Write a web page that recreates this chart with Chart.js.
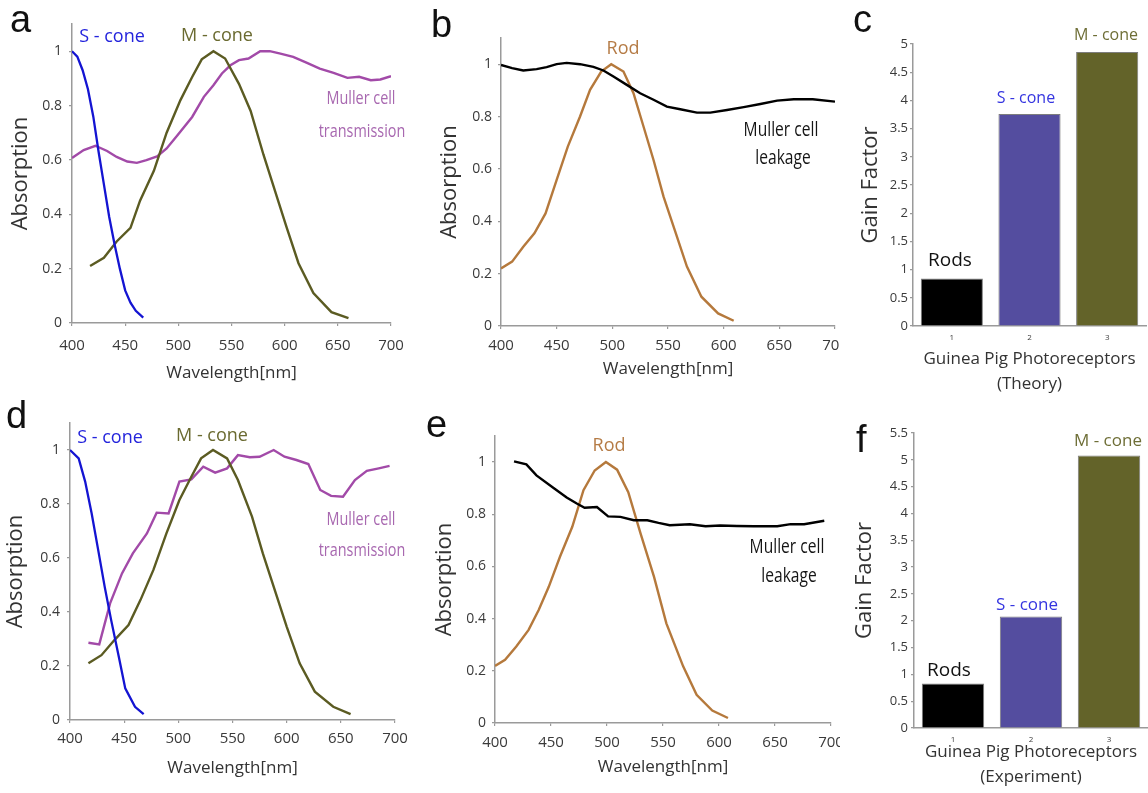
<!DOCTYPE html>
<html><head><meta charset="utf-8">
<script src="https://cdn.jsdelivr.net/npm/chart.js@4.4.0/dist/chart.umd.min.js"></script>
<style>
html,body{margin:0;padding:0;background:#fff;}
#wrap{position:relative;width:1148px;height:793px;overflow:hidden;background:#fff;}
canvas{position:absolute;}
.t{position:absolute;white-space:nowrap;line-height:1;transform:translate(-50%,-50%);font-family:'Open Sans',sans-serif;}
.n{transform:translate(-50%,-50%) scaleX(0.8);}
.L{position:absolute;line-height:1;font-family:'Liberation Sans',Arial,sans-serif;font-size:38px;color:#111;}
</style></head><body><div id="wrap">
<canvas id="ca"></canvas><canvas id="cb"></canvas><canvas id="cc"></canvas>
<canvas id="cd"></canvas><canvas id="ce"></canvas><canvas id="cf"></canvas>
</div>
<script>
// ---------- data ----------
const wavelengthTicks = [400,450,500,550,600,650,700];
const absorptionTicks = [0,0.2,0.4,0.6,0.8,1];
const absorptionTickLabels = ['0','0.2','0.4','0.6','0.8','1'];
const gainTicksTheory = [0,0.5,1,1.5,2,2.5,3,3.5,4,4.5,5];
const gainTickLabelsTheory = ['0','0.5','1','1.5','2','2.5','3','3.5','4','4.5','5'];
const gainTicksExperiment = [0,0.5,1,1.5,2,2.5,3,3.5,4,4.5,5,5.5];
const gainTickLabelsExperiment = ['0','0.5','1','1.5','2','2.5','3','3.5','4','4.5','5','5.5'];
const receptorCategories = ['1','2','3'];
const receptorNames = ['Rods','S - cone','M - cone'];

// panel a
const aSconeX = [400,405,410,415,420,425,430,435,440,445,450,455,460,467];
const aSconeY = [1.0,0.98,0.93,0.86,0.76,0.63,0.51,0.39,0.29,0.2,0.12,0.075,0.045,0.02];
const aMconeX = [417,430,442,455,464,477,489,502,513,522,533,544,557,568,580,593,602,613,627,644,660];
const aMconeY = [0.21,0.24,0.3,0.35,0.45,0.56,0.7,0.82,0.905,0.97,1.0,0.973,0.88,0.78,0.62,0.46,0.35,0.22,0.11,0.04,0.018];
const aMullerX = [400,411,422,433,442,452,461,470,480,489,499,513,524,533,541,549,557,566,577,586,596,608,621,633,646,659,670,681,690,700];
const aMullerY = [0.607,0.636,0.652,0.633,0.611,0.594,0.589,0.599,0.613,0.642,0.69,0.758,0.832,0.875,0.918,0.948,0.967,0.973,1.0,1.0,0.991,0.979,0.957,0.936,0.92,0.902,0.906,0.893,0.896,0.908];

// panel b
const bMullerX = [400,410,420,432,441,450,459,471,483,492,501,513,525,537,549,561,576,588,603,618,633,648,663,680,700];
const bMullerY = [0.997,0.985,0.976,0.981,0.989,1.0,1.005,1.0,0.99,0.976,0.953,0.921,0.889,0.864,0.838,0.828,0.815,0.815,0.825,0.836,0.848,0.861,0.866,0.866,0.857];
const bRodX = [400,410,420,430,440,450,460,471,480,490,499,510,519,528,537,546,556,567,580,595,609];
const bRodY = [0.22,0.246,0.303,0.354,0.43,0.558,0.685,0.8,0.902,0.972,1.0,0.972,0.889,0.762,0.634,0.494,0.367,0.227,0.112,0.048,0.02];

// panel c
const gainTheory = [0.84,3.76,4.86];

// panel d
const dSconeX = [400,408,414,420,426,432,438,445,451,460,468];
const dSconeY = [1.0,0.969,0.883,0.765,0.63,0.494,0.37,0.235,0.117,0.049,0.022];
const dMconeX = [417,429,441,454,465,477,489,501,512,521,532,545,555,568,578,591,600,612,626,643,659];
const dMconeY = [0.21,0.24,0.296,0.352,0.444,0.556,0.691,0.815,0.901,0.969,1.0,0.969,0.889,0.753,0.617,0.457,0.346,0.21,0.105,0.049,0.022];
const dMullerX = [417,427,437,448,458,471,480,491,501,512,523,534,545,555,566,575,588,598,609,620,631,641,652,663,674,685,695];
const dMullerY = [0.286,0.28,0.432,0.543,0.617,0.691,0.768,0.765,0.883,0.891,0.938,0.916,0.932,0.981,0.973,0.975,1.0,0.975,0.963,0.948,0.852,0.83,0.827,0.889,0.923,0.932,0.941];

// panel e
const eMullerX = [417,428,437,452,464,473,480,491,501,512,524,536,546,556,574,588,601,616,631,652,664,676,694];
const eMullerY = [1.003,0.991,0.949,0.902,0.864,0.841,0.825,0.828,0.792,0.79,0.777,0.777,0.767,0.758,0.762,0.754,0.757,0.755,0.754,0.754,0.762,0.762,0.775];
const eRodX = [400,409,419,430,439,448,458,469,479,489,499,509,519,530,542,553,568,580,594,608];
const eRodY = [0.219,0.242,0.293,0.357,0.433,0.522,0.637,0.752,0.892,0.968,1.0,0.971,0.885,0.726,0.56,0.382,0.217,0.108,0.048,0.019];

// panel f
const gainExperiment = [0.83,2.08,5.08];

// ---------- styling ----------
const C = {
  blue:'#1414d2', olive:'#5b5b22', purple:'#a24aa8', rod:'#b5793c', black:'#000',
  axis:'#9a9a9a', tick:'#3a3a3a', title:'#333',
  barColors:['#000000','#544d9f','#636329']
};
Chart.defaults.font.family = "'Open Sans', sans-serif";
Chart.defaults.color = C.tick;
Chart.defaults.animation = false;

const G = {
  a:{left:0,top:0,w:410,h:400, area:{l:72,r:391,t:24,b:323}, yTitleX:21, xTitleY:373, xPad:11, yPad:7},
  b:{left:420,top:0,w:420,h:400, area:{l:501,r:835,t:38,b:326}, yTitleX:450, xTitleY:369, xPad:8, yPad:6},
  c:{left:850,top:0,w:298,h:400, area:{l:913,r:1146,t:44,b:326}, yTitleX:871, xTitleY:359, yPad:2},
  d:{left:0,top:400,w:412,h:393, area:{l:70,r:395,t:423,b:720}, yTitleX:16, xTitleY:768, xPad:7, yPad:7},
  e:{left:420,top:400,w:420,h:393, area:{l:495,r:831,t:436,b:723}, yTitleX:445, xTitleY:767, xPad:8, yPad:6},
  f:{left:850,top:400,w:298,h:393, area:{l:914,r:1148,t:433,b:728}, yTitleX:865, xTitleY:752, yPad:3}
};

function place(id, g){
  const el = document.getElementById(id);
  el.width = g.w; el.height = g.h;
  el.style.left = g.left+'px'; el.style.top = g.top+'px';
  el.style.width = g.w+'px'; el.style.height = g.h+'px';
  return el;
}
function layoutFor(g){ return {padding:{left:0, top:g.area.t-g.top, right:g.left+g.w-g.area.r, bottom:0}}; }

function yScale(g, max, ticks, labels, title, size){
  return {
    type:'linear', position:'left', min:0, max:max,
    afterBuildTicks: s => { s.ticks = ticks.map(v=>({value:v})); },
    ticks:{ callback:(v,i)=>labels[i], font:{size:size}, padding:g.yPad, color:C.tick, autoSkip:false },
    grid:{ drawOnChartArea:false, drawTicks:true, tickLength:3, color:C.axis, lineWidth:1.2 },
    border:{ display:true, color:C.axis, width:1.5 },
    title:{ display:true, text:title, color:C.title, font:{size:22, lineHeight:1.2},
            padding:{top:Math.max(0,g.yTitleX-g.left-13.2), bottom:0} },
    afterFit: s => { s.width = g.area.l - g.left; s.paddingTop = 0; s.paddingBottom = 0; }
  };
}
function xWave(g){
  return {
    type:'linear', position:'bottom', min:400, max:700,
    afterBuildTicks: s => { s.ticks = wavelengthTicks.map(v=>({value:v})); },
    ticks:{ callback:(v,i)=>String(wavelengthTicks[i]), font:{size:15}, padding:g.xPad, maxRotation:0, autoSkip:false, color:C.tick },
    grid:{ drawOnChartArea:false, drawTicks:true, tickLength:3, color:C.axis, lineWidth:1.2 },
    border:{ display:true, color:C.axis, width:1.5 },
    title:{ display:true, text:'Wavelength[nm]', color:C.title, font:{size:17, lineHeight:1.2},
            padding:{top:0, bottom:g.top+g.h-g.xTitleY-10.2} },
    afterFit: s => { s.height = g.top+g.h-g.area.b; s.paddingLeft = 0; s.paddingRight = 0; }
  };
}
function ds(xs, ys, color, w){
  return { data: xs.map((x,i)=>({x:x, y:ys[i]})), borderColor:color, borderWidth:w||2.4,
           pointRadius:0, pointHoverRadius:0, tension:0, fill:false };
}
function lineChart(id, g, datasets){
  return new Chart(place(id,g), {
    type:'line',
    data:{ datasets:datasets },
    options:{ responsive:false, animation:false, devicePixelRatio:1, layout:layoutFor(g),
      plugins:{ legend:{display:false}, tooltip:{enabled:false} },
      scales:{ x:xWave(g), y:yScale(g, 1.1, absorptionTicks, absorptionTickLabels, 'Absorption', 14) } }
  });
}
function barChart(id, g, values, max, ticks, labels, subtitle){
  return new Chart(place(id,g), {
    type:'bar',
    data:{ labels:receptorCategories, datasets:[{ label:'Gain Factor', data:values,
      backgroundColor:C.barColors, borderColor:'#7d7d7d', borderWidth:1,
      barPercentage:0.8, categoryPercentage:1 }] },
    options:{ responsive:false, animation:false, devicePixelRatio:1, layout:layoutFor(g),
      plugins:{ legend:{display:false}, tooltip:{enabled:false} },
      scales:{
        x:{ type:'category', position:'bottom',
            grid:{display:false, drawTicks:false}, border:{display:true, color:C.axis, width:1.5},
            ticks:{ font:{size:8}, padding:7, color:C.tick, maxRotation:0 },
            title:{ display:true, text:['Guinea Pig Photoreceptors', subtitle], color:C.title,
                    font:{size:17, lineHeight:'25px'}, padding:{top:0, bottom:g.top+g.h-g.xTitleY-12.5-25} },
            afterFit: s => { s.height = g.top+g.h-g.area.b; s.paddingLeft = 0; s.paddingRight = 0; } },
        y: yScale(g, max, ticks, labels, 'Gain Factor', 13)
      } }
  });
}

lineChart('ca', G.a, [ ds(aSconeX,aSconeY,C.blue,2.3), ds(aMconeX,aMconeY,C.olive), ds(aMullerX,aMullerY,C.purple) ]);
lineChart('cb', G.b, [ ds(bMullerX,bMullerY,C.black), ds(bRodX,bRodY,C.rod) ]);
barChart('cc', G.c, gainTheory, 5, gainTicksTheory, gainTickLabelsTheory, '(Theory)');
lineChart('cd', G.d, [ ds(dSconeX,dSconeY,C.blue,2.3), ds(dMconeX,dMconeY,C.olive), ds(dMullerX,dMullerY,C.purple) ]);
lineChart('ce', G.e, [ ds(eMullerX,eMullerY,C.black), ds(eRodX,eRodY,C.rod) ]);
barChart('cf', G.f, gainExperiment, 5.5, gainTicksExperiment, gainTickLabelsExperiment, '(Experiment)');

// ---------- text annotations ----------
const notes = [
  ['S - cone',112,35,18,'#2424dc'], ['M - cone',217,34,18,'#6a6a30'],
  ['Muller cell',361,97,18,'#a868b0',1], ['transmission',362,130,18,'#a868b0',1],
  ['Rod',623,47,18,'#b57b45'],
  ['Muller cell',781,129,19.5,'#151515',1], ['leakage',783,157,19.5,'#151515',1],
  [receptorNames[2],1106,34,16,'#6e6e36'], [receptorNames[1],1026,97,16,'#3535e0'], [receptorNames[0],950,259,19,'#111'],
  ['S - cone',110,436,18,'#2424dc'], ['M - cone',212,434,18,'#6a6a30'],
  ['Muller cell',361,518,18,'#a868b0',1], ['transmission',362,549,18,'#a868b0',1],
  ['Rod',609,444,18,'#b57b45'],
  ['Muller cell',787,546,19.5,'#151515',1], ['leakage',789,575,19.5,'#151515',1],
  [receptorNames[2],1108,439,17,'#6e6e36'], [receptorNames[1],1027,603,17,'#3535e0'], [receptorNames[0],949,669,19,'#111']
];
const wrap = document.getElementById('wrap');
notes.forEach(n => {
  const d = document.createElement('div');
  d.className = n[5] ? 't n' : 't'; d.textContent = n[0];
  d.style.left = n[1]+'px'; d.style.top = n[2]+'px';
  d.style.fontSize = n[3]+'px'; d.style.color = n[4];
  wrap.appendChild(d);
});
const letters = [['a',10,0],['b',431,5],['c',853,0],['d',6,396],['e',426,405],['f',856,420]];
letters.forEach(l => {
  const d = document.createElement('div');
  d.className = 'L'; d.textContent = l[0];
  d.style.left = l[1]+'px'; d.style.top = l[2]+'px';
  wrap.appendChild(d);
});
</script></body></html>
